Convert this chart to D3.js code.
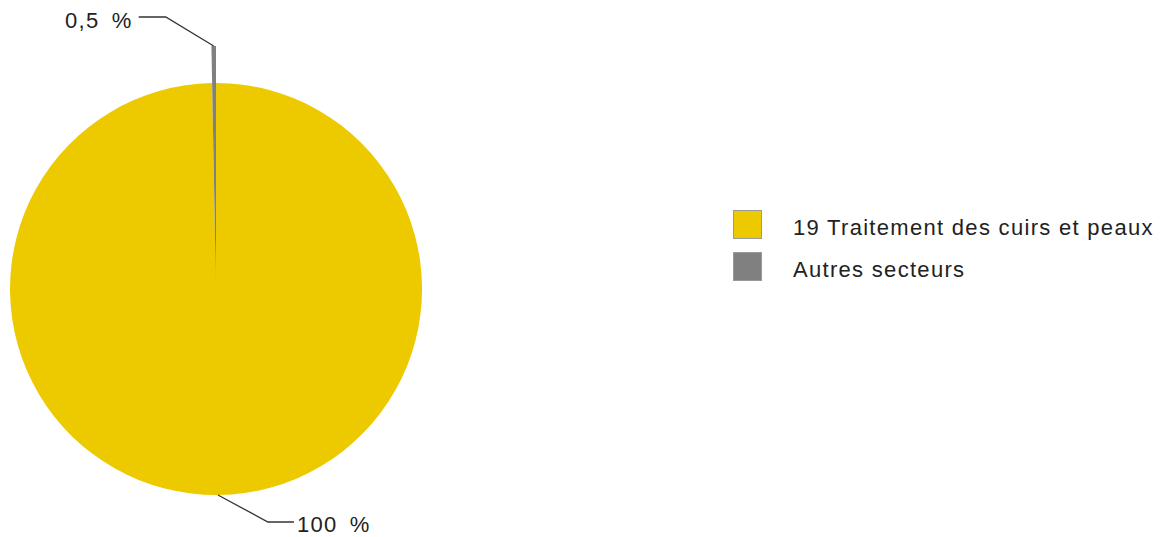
<!DOCTYPE html>
<html>
<head>
<meta charset="utf-8">
<script src="https://cdn.jsdelivr.net/npm/d3@7"></script>
<style>
  body { margin: 0; background: #fff; }
  svg text { font-family: "Liberation Sans", Arial, sans-serif; fill: #222; letter-spacing: 1.3px; }
</style>
</head>
<body>
<svg id="chart" width="1171" height="537"></svg>
<script>
// data
var sectors = ['19 Traitement des cuirs et peaux', 'Autres secteurs'];
var shares = [99.7, 0.3];
var shareLabels = ['100 %', '0,5 %'];
var colors = ['#edc900', '#808080'];

var svg = d3.select('#chart');
var cx = 216, cy = 289, radius = 206;

var pie = d3.pie().sort(null).value(function(d){ return d; });
var arcs = pie(shares);

var arc = d3.arc().innerRadius(0).outerRadius(function(d, i){
  // the small slice sticks out past the rim
  return d.index === 1 ? radius + 37 : radius;
});

var g = svg.append('g').attr('transform', 'translate(' + cx + ',' + cy + ')');

g.selectAll('path.slice')
  .data(arcs)
  .enter().append('path')
  .attr('class', 'slice')
  .attr('d', arc)
  .attr('fill', function(d, i){ return colors[i]; });

// leader lines + labels
function edgePoint(d, r) {
  var a = (d.startAngle + d.endAngle) / 2;
  return [Math.sin(a) * r, -Math.cos(a) * r];
}

// big slice: label bottom right
var p0 = edgePoint(arcs[0], radius);
g.append('polyline')
  .attr('points', [p0, [p0[0] + 50, p0[1] + 27], [p0[0] + 76, p0[1] + 27]].map(String).join(' '))
  .attr('fill', 'none').attr('stroke', '#333').attr('stroke-width', 1.3);
g.append('text')
  .attr('x', p0[0] + 79).attr('y', p0[1] + 29)
  .attr('dy', '0.35em')
  .style('font-size', '22px')
  .attr('xml:space', 'preserve')
  .text(shareLabels[0].replace(' ', '\u2002'));

// small slice: label top left
var p1 = edgePoint(arcs[1], radius + 37);
g.append('polyline')
  .attr('points', [p1, [p1[0] - 48, p1[1] - 29], [p1[0] - 75, p1[1] - 29]].map(String).join(' '))
  .attr('fill', 'none').attr('stroke', '#333').attr('stroke-width', 1.3);
g.append('text')
  .attr('x', p1[0] - 81).attr('y', p1[1] - 26)
  .attr('dy', '0.35em')
  .attr('text-anchor', 'end')
  .style('font-size', '22px')
  .text(shareLabels[1].replace(' ', '\u2002'));

// legend
var legend = svg.append('g').attr('transform', 'translate(733,210)');
var items = legend.selectAll('g.item')
  .data(sectors)
  .enter().append('g')
  .attr('class', 'item')
  .attr('transform', function(d, i){ return 'translate(0,' + (i * 42) + ')'; });

items.append('rect')
  .attr('x', 0.5).attr('y', 0.5)
  .attr('width', 28).attr('height', 28)
  .attr('fill', function(d, i){ return colors[i]; })
  .attr('stroke', '#999').attr('stroke-width', 1);

items.append('text')
  .attr('x', 60).attr('y', 17)
  .attr('dy', '0.35em')
  .style('font-size', '22px')
  .text(function(d){ return d; });
</script>
</body>
</html>
